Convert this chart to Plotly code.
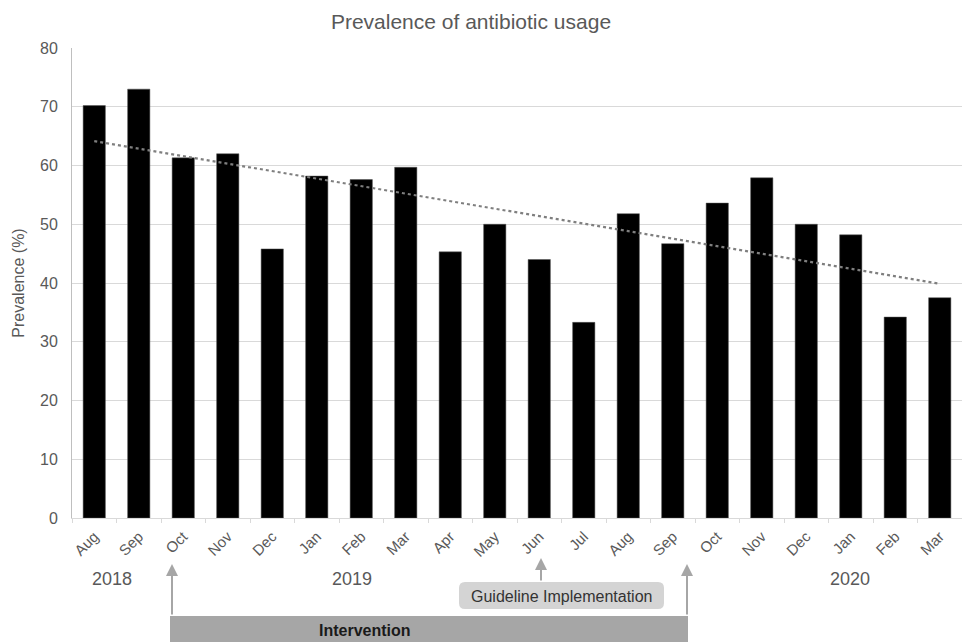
import numpy as np
import plotly.graph_objects as go

months = ["Aug", "Sep", "Oct", "Nov", "Dec", "Jan", "Feb", "Mar", "Apr", "May",
          "Jun", "Jul", "Aug", "Sep", "Oct", "Nov", "Dec", "Jan", "Feb", "Mar"]
years = ["2018"] * 5 + ["2019"] * 12 + ["2020"] * 3
prevalence = [70.2, 73.0, 61.3, 62.0, 45.8, 58.2, 57.6, 59.7, 45.3, 50.0,
              44.0, 33.3, 51.8, 46.7, 53.6, 57.9, 50.0, 48.2, 34.2, 37.5]
y_ticks = [0, 10, 20, 30, 40, 50, 60, 70, 80]

keys = [f"{m} {y} #{i}" for i, (m, y) in enumerate(zip(months, years))]
idx = np.arange(len(prevalence))
coef = np.polyfit(idx, prevalence, 1)
trend = np.polyval(coef, idx)

L, R, T, B = 72, 0, 48, 124
W, H = 962, 642
pw, ph = W - L - R, H - T - B

def px(x):
    return (x - L) / pw

def py(y):
    return (H - B - y) / ph

fig = go.Figure()
fig.add_bar(x=keys, y=prevalence, marker=dict(color="#000000", line=dict(color="#555555", width=0.5)),
            width=0.5, showlegend=False)
fig.add_scatter(x=keys, y=trend, mode="lines", line=dict(color="#7f7f7f", width=2.2, dash="dot"),
                showlegend=False)

grey = "#a6a6a6"
shapes = []
# Intervention bar
shapes.append(dict(type="rect", xref="paper", yref="paper", x0=px(170), x1=px(688), y0=py(616), y1=py(650),
                   fillcolor=grey, line=dict(width=0), layer="above"))
# Guideline box with rounded corners
x0, x1, y0, y1 = px(459), px(664), py(582), py(609)
rx, ry = 6 / pw, 6 / ph
path = (f"M {x0+rx},{y0} L {x1-rx},{y0} Q {x1},{y0} {x1},{y0-ry} L {x1},{y1+ry} Q {x1},{y1} {x1-rx},{y1} "
        f"L {x0+rx},{y1} Q {x0},{y1} {x0},{y1+ry} L {x0},{y0-ry} Q {x0},{y0} {x0+rx},{y0} Z")
shapes.append(dict(type="path", xref="paper", yref="paper", path=path, fillcolor="#d4d4d4",
                   line=dict(width=0), layer="above"))

ann = []
for x_, lbl in [(112, "2018"), (352, "2019"), (850, "2020")]:
    ann.append(dict(xref="paper", yref="paper", x=px(x_), y=py(579), text=lbl, showarrow=False,
                    xanchor="center", yanchor="middle", font=dict(size=18, color="#595959")))
ann.append(dict(xref="paper", yref="paper", x=px(365), y=py(630), text="<b>Intervention</b>", showarrow=False,
                xanchor="center", yanchor="middle", font=dict(size=16, color="#1a1a1a")))
ann.append(dict(xref="paper", yref="paper", x=px(561), y=py(596), text="Guideline Implementation", showarrow=False,
                xanchor="center", yanchor="middle", font=dict(size=16, color="#333333")))
for x_, y_, tail in [(172, 564, 52), (687, 564, 52), (541, 558, 24)]:
    ann.append(dict(xref="paper", yref="paper", x=px(x_), y=py(y_), ax=0, ay=tail, text="", showarrow=True,
                    arrowhead=2, arrowsize=1.2, arrowwidth=2, arrowcolor=grey))

fig.update_layout(
    width=W, height=H,
    margin=dict(l=L, r=R, t=T, b=B, autoexpand=False),
    paper_bgcolor="white", plot_bgcolor="white",
    font=dict(family="Liberation Sans, Arial, sans-serif", color="#595959"),
    title=dict(text="Prevalence of antibiotic usage", x=px(471), xanchor="center", xref="paper",
               y=1 - 22 / H, yanchor="middle", font=dict(size=21, color="#595959")),
    shapes=shapes, annotations=ann, bargap=0.5,
)
fig.update_xaxes(tickmode="array", tickvals=keys, ticktext=months, tickangle=-45, automargin=False,
                 tickfont=dict(size=15, color="#595959"), showline=True, linecolor="#d9d9d9",
                 ticks="outside", ticklen=4, tickcolor="#d9d9d9", tickson="boundaries", showgrid=False,
                 ticklabelstandoff=3)
fig.update_yaxes(range=[0, 80], tickvals=y_ticks, showgrid=True, gridcolor="#d9d9d9", zeroline=False,
                 automargin=False, showline=True, linecolor="#bfbfbf", tickfont=dict(size=16, color="#595959"),
                 ticklabelstandoff=10,
                 title=dict(text="Prevalence (%)", font=dict(size=16, color="#595959"), standoff=11))
fig.write_html("out.html", config={"displayModeBar": False},
               post_script="document.body.style.margin='0';document.body.style.overflow='hidden';")
